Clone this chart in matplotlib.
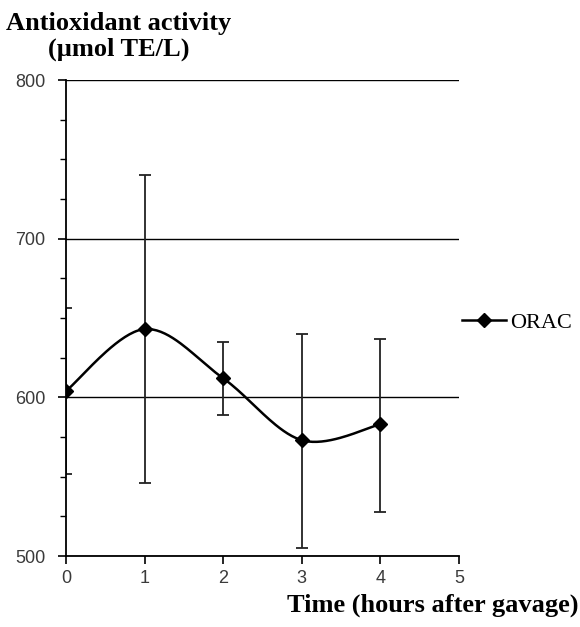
import matplotlib.pyplot as plt
import numpy as np

hours = [0, 1, 2, 3, 4]
orac = [604, 643, 612, 573, 583]
err_low = [552, 546, 589, 505, 528]
err_high = [656, 740, 635, 640, 637]


# excel style smoothed line (catmull-rom through the points)
def smooth(x, y, n=40):
    x = np.array(x, float)
    y = np.array(y, float)
    px = np.concatenate([[x[0]], x, [x[-1]]])
    py = np.concatenate([[y[0]], y, [y[-1]]])
    xs, ys = [], []
    for i in range(1, len(px) - 2):
        p0 = np.array([px[i], py[i]])
        p3 = np.array([px[i + 1], py[i + 1]])
        c1 = p0 + (np.array([px[i + 1], py[i + 1]]) - np.array([px[i - 1], py[i - 1]])) / 6
        c2 = p3 - (np.array([px[i + 2], py[i + 2]]) - np.array([px[i], py[i]])) / 6
        t = np.linspace(0, 1, n)[:, None]
        b = (1 - t) ** 3 * p0 + 3 * (1 - t) ** 2 * t * c1 + 3 * (1 - t) * t ** 2 * c2 + t ** 3 * p3
        xs.extend(b[:, 0])
        ys.extend(b[:, 1])
    return xs, ys


fig = plt.figure(figsize=(5.8, 6.27), dpi=100)
ax = fig.add_axes([0.1138, 0.1132, 0.6776, 0.7592])

sx, sy = smooth(hours, orac)
ax.plot(sx, sy, color='black', lw=1.8, zorder=3)
ax.plot(hours, orac, 'D', color='black', ms=7, zorder=4)
yerr = [np.array(orac) - np.array(err_low), np.array(err_high) - np.array(orac)]
ax.errorbar(hours, orac, yerr=yerr, fmt='none', ecolor='#222222', elinewidth=1.3,
            capsize=4, capthick=1.3, zorder=2)
ax.plot([], [], '-D', color='black', ms=7, lw=1.8, label='ORAC')

ax.set_xlim(0, 5)
ax.set_ylim(500, 800)
ax.set_xticks(range(6))
ax.set_yticks([500, 600, 700, 800])
ax.set_yticks(np.arange(500, 800, 25), minor=True)
ax.grid(axis='y', color='black', lw=1)
ax.spines['right'].set_visible(False)
ax.spines['top'].set_visible(False)
ax.spines['left'].set_linewidth(1.3)
ax.spines['bottom'].set_linewidth(1.3)
ax.tick_params(axis='both', which='major', direction='out', length=6, width=1.2,
               labelsize=13, labelcolor='#3a3a3a')
ax.tick_params(axis='y', which='major', pad=9)
ax.tick_params(axis='x', which='major', pad=4)
ax.tick_params(axis='y', which='minor', direction='out', length=4, width=1)
for lab in ax.get_xticklabels() + ax.get_yticklabels():
    lab.set_family('Liberation Sans')

fig.text(0.010, 0.963, 'Antioxidant activity', family='Liberation Serif',
         weight='bold', fontsize=19, ha='left', va='center')
fig.text(0.083, 0.921, '(\u00b5mol TE/L)', family='Liberation Serif',
         weight='bold', fontsize=19, ha='left', va='center')
fig.text(0.997, 0.035, 'Time (hours after gavage)', family='Liberation Serif',
         weight='bold', fontsize=19, ha='right', va='center')

ax.legend(loc='center left', bbox_to_anchor=(0.985, 0.49), frameon=False,
          prop={'family': 'Liberation Serif', 'size': 16}, handlelength=2.0,
          handletextpad=0.15, borderaxespad=0)

fig.savefig('out.png', dpi=100)
